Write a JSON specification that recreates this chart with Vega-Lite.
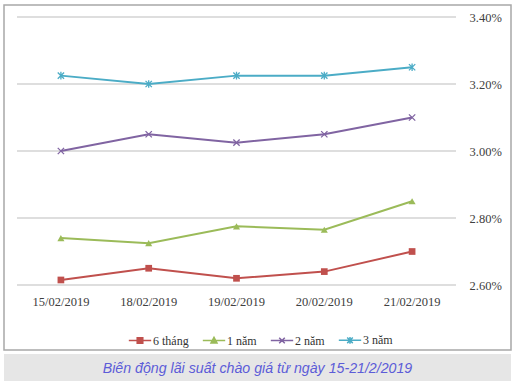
{
  "$schema": "https://vega.github.io/schema/vega-lite/v6.json",
  "padding": {"left": 3, "top": 4, "right": 3, "bottom": 0},
  "background": "white",
  "spacing": 3,
  "config": {
    "font": "Liberation Serif",
    "axis": {"labelFont": "Liberation Serif", "labelColor": "#404040"}
  },
  "vconcat": [
    {
      "width": 507,
      "height": 345,
      "view": {"stroke": "#a8a8a8", "strokeWidth": 1.5, "fill": "white"},
      "layer": [
        {
          "data": {"values": [
            {"g": 2.6, "d0": "15/02/2019", "d1": "21/02/2019"},
            {"g": 2.8, "d0": "15/02/2019", "d1": "21/02/2019"},
            {"g": 3.0, "d0": "15/02/2019", "d1": "21/02/2019"},
            {"g": 3.2, "d0": "15/02/2019", "d1": "21/02/2019"},
            {"g": 3.4, "d0": "15/02/2019", "d1": "21/02/2019"}
          ]},
          "mark": {"type": "rule", "color": "#bdbdbd", "strokeWidth": 1},
          "encoding": {
            "x": {"field": "d0", "type": "nominal", "bandPosition": 0},
            "x2": {"field": "d1", "bandPosition": 1},
            "y": {"field": "g", "type": "quantitative"}
          }
        },
        {
          "data": {"name": "series"},
          "mark": {"type": "line", "strokeWidth": 2},
          "encoding": {
            "x": {"field": "date", "type": "nominal"},
            "y": {"field": "rate", "type": "quantitative"},
            "color": {
              "field": "term", "type": "nominal",
              "scale": {"domain": ["6 tháng", "1 năm", "2 năm", "3 năm"], "range": ["#c0504d", "#9bbb59", "#8064a2", "#4bacc6"]},
              "legend": {
                "title": null,
                "orient": "none",
                "direction": "horizontal",
                "legendX": 124,
                "legendY": 323,
                "symbolSize": 500,
                "symbolStrokeWidth": 1.5,
                "labelFont": "Liberation Serif",
                "labelFontSize": 12,
                "labelColor": "#333333",
                "labelOffset": 1,
                "columnPadding": 10,
                "encode": {
                  "symbols": {"update": {
                    "shape": {"signal": "datum.value === '6 tháng' ? 'M-1,0H1M-0.25,-0.25H0.25V0.25H-0.25Z' : datum.value === '1 năm' ? 'M-1,0H1M0,-0.28L0.27,0.22H-0.27Z' : datum.value === '2 năm' ? 'M-1,0H1M-0.25,-0.25L0.25,0.25M-0.25,0.25L0.25,-0.25' : 'M-1,0H1M-0.25,-0.25L0.25,0.25M-0.25,0.25L0.25,-0.25M0,-0.3V0.3'"},
                    "fill": {"scale": "color", "field": "value"},
                    "stroke": {"scale": "color", "field": "value"},
                    "fillOpacity": {"value": 1},
                    "strokeWidth": {"value": 1.5}
                  }}
                }
              }
            }
          }
        },
        {
          "data": {"name": "series"},
          "transform": [{"filter": "datum.term === '6 tháng'"}],
          "mark": {"type": "point", "shape": "square", "filled": true, "size": 45, "color": "#c0504d", "opacity": 1},
          "encoding": {
            "x": {"field": "date", "type": "nominal"},
            "y": {"field": "rate", "type": "quantitative"}
          }
        },
        {
          "data": {"name": "series"},
          "transform": [{"filter": "datum.term === '1 năm'"}],
          "mark": {"type": "point", "shape": "triangle-up", "filled": true, "size": 50, "color": "#9bbb59", "opacity": 1},
          "encoding": {
            "x": {"field": "date", "type": "nominal"},
            "y": {"field": "rate", "type": "quantitative"}
          }
        },
        {
          "data": {"name": "series"},
          "transform": [{"filter": "datum.term === '2 năm'"}],
          "mark": {"type": "point", "shape": "M-1,-1L1,1M-1,1L1,-1", "filled": false, "size": 40, "strokeWidth": 1.3, "color": "#8064a2", "opacity": 1},
          "encoding": {
            "x": {"field": "date", "type": "nominal"},
            "y": {"field": "rate", "type": "quantitative"}
          }
        },
        {
          "data": {"name": "series"},
          "transform": [{"filter": "datum.term === '3 năm'"}],
          "mark": {"type": "point", "shape": "M-1,-1L1,1M-1,1L1,-1M0,-1.2V1.2", "filled": false, "size": 40, "strokeWidth": 1.3, "color": "#4bacc6", "opacity": 1},
          "encoding": {
            "x": {"field": "date", "type": "nominal"},
            "y": {"field": "rate", "type": "quantitative"}
          }
        }
      ],
      "encoding": {
        "x": {
          "field": "date", "type": "nominal",
          "scale": {"domain": ["15/02/2019", "18/02/2019", "19/02/2019", "20/02/2019", "21/02/2019"], "range": [13, 452], "paddingInner": 0, "paddingOuter": 0},
          "axis": {"title": null, "orient": "bottom", "offset": -55, "ticks": false, "domain": false, "labelPadding": 0, "labelAngle": 0, "labelFontSize": 12.5, "grid": false}
        },
        "y": {
          "field": "rate", "type": "quantitative",
          "scale": {"domain": [2.6, 3.4], "range": [280, 12], "nice": false, "zero": false},
          "axis": {"title": null, "orient": "right", "offset": -42, "ticks": false, "domain": false, "labelPadding": 0, "values": [2.6, 2.8, 3.0, 3.2, 3.4], "labelExpr": "format(datum.value, '.2f') + '%'", "labelFontSize": 12.5, "grid": false}
        }
      }
    },
    {
      "width": 507,
      "height": 29,
      "view": {"stroke": null, "fill": "#e6e6e6"},
      "data": {"values": [{"caption": "Biến động lãi suất chào giá từ ngày 15-21/2/2019"}]},
      "mark": {"type": "text", "font": "Liberation Sans", "fontStyle": "italic", "fontSize": 14.2, "color": "#5c5cd8", "align": "center", "baseline": "middle"},
      "encoding": {"text": {"field": "caption", "type": "nominal"}}
    }
  ],
  "datasets": {
    "series": [
      {"date": "15/02/2019", "term": "6 tháng", "rate": 2.615},
      {"date": "18/02/2019", "term": "6 tháng", "rate": 2.65},
      {"date": "19/02/2019", "term": "6 tháng", "rate": 2.62},
      {"date": "20/02/2019", "term": "6 tháng", "rate": 2.64},
      {"date": "21/02/2019", "term": "6 tháng", "rate": 2.70},
      {"date": "15/02/2019", "term": "1 năm", "rate": 2.74},
      {"date": "18/02/2019", "term": "1 năm", "rate": 2.725},
      {"date": "19/02/2019", "term": "1 năm", "rate": 2.775},
      {"date": "20/02/2019", "term": "1 năm", "rate": 2.765},
      {"date": "21/02/2019", "term": "1 năm", "rate": 2.85},
      {"date": "15/02/2019", "term": "2 năm", "rate": 3.00},
      {"date": "18/02/2019", "term": "2 năm", "rate": 3.05},
      {"date": "19/02/2019", "term": "2 năm", "rate": 3.025},
      {"date": "20/02/2019", "term": "2 năm", "rate": 3.05},
      {"date": "21/02/2019", "term": "2 năm", "rate": 3.10},
      {"date": "15/02/2019", "term": "3 năm", "rate": 3.225},
      {"date": "18/02/2019", "term": "3 năm", "rate": 3.20},
      {"date": "19/02/2019", "term": "3 năm", "rate": 3.225},
      {"date": "20/02/2019", "term": "3 năm", "rate": 3.225},
      {"date": "21/02/2019", "term": "3 năm", "rate": 3.25}
    ]
  }
}
